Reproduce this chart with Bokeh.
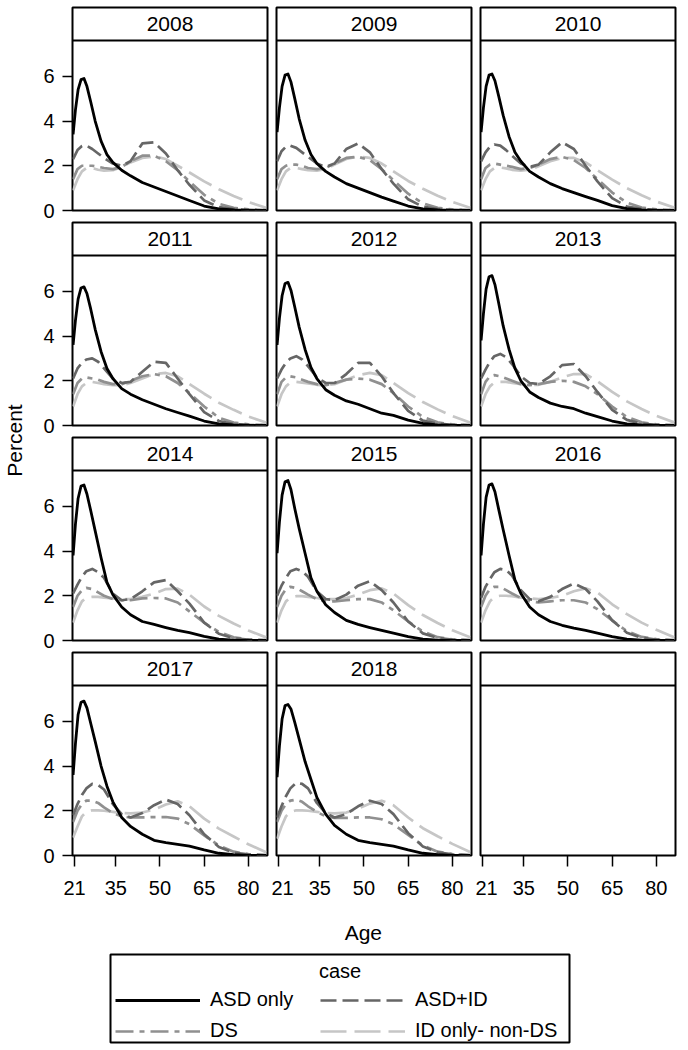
import math
from bokeh.plotting import figure
from bokeh.models import Range1d, FixedTicker, Span, Label, Legend, LegendItem
from bokeh.layouts import row, column
from bokeh.embed import file_html
from bokeh.resources import INLINE

FONT = "Liberation Sans"

years = ["2008", "2009", "2010", "2011", "2012", "2013", "2014", "2015", "2016", "2017", "2018"]
ages_asd = [20.5, 21.3, 22.2, 23.2, 24.2, 25.2, 26.5, 28, 30, 32, 34, 37, 40, 44, 48, 52, 56, 60, 65, 70, 75, 80, 86]
ages = [20.5, 22, 23.5, 25, 27, 29, 31, 34, 37, 40, 44, 48, 52, 56, 60, 65, 70, 75, 80, 86]
x_ticks = [21, 35, 50, 65, 80]
y_ticks = [0, 2, 4, 6]

asd_only = {
    "2008": [3.4, 4.5, 5.4, 5.85, 5.9, 5.55, 4.85, 4.0, 3.1, 2.5, 2.15, 1.8, 1.55, 1.25, 1.05, 0.85, 0.65, 0.45, 0.2, 0.07, 0.03, 0.01, 0.0],
    "2009": [3.5, 4.6, 5.55, 6.05, 6.1, 5.75, 5.0, 4.1, 3.15, 2.5, 2.1, 1.75, 1.5, 1.2, 1.0, 0.8, 0.6, 0.42, 0.2, 0.07, 0.03, 0.01, 0.0],
    "2010": [3.5, 4.6, 5.55, 6.05, 6.1, 5.8, 5.1, 4.25, 3.3, 2.6, 2.2, 1.75, 1.5, 1.2, 0.98, 0.8, 0.62, 0.45, 0.22, 0.08, 0.03, 0.01, 0.0],
    "2011": [3.6, 4.7, 5.65, 6.15, 6.2, 5.9, 5.2, 4.3, 3.3, 2.55, 2.1, 1.65, 1.4, 1.15, 0.95, 0.75, 0.58, 0.42, 0.2, 0.07, 0.03, 0.01, 0.0],
    "2012": [3.6, 4.8, 5.8, 6.35, 6.4, 6.05, 5.3, 4.4, 3.4, 2.6, 2.1, 1.6, 1.35, 1.1, 0.95, 0.75, 0.55, 0.45, 0.24, 0.09, 0.03, 0.01, 0.0],
    "2013": [3.8, 5.0, 6.1, 6.65, 6.7, 6.3, 5.45, 4.45, 3.4, 2.55, 2.0, 1.5, 1.25, 1.0, 0.85, 0.75, 0.55, 0.4, 0.2, 0.07, 0.03, 0.01, 0.0],
    "2014": [3.8, 5.2, 6.35, 6.9, 6.95, 6.55, 5.8, 4.9, 3.7, 2.6, 2.05, 1.5, 1.15, 0.85, 0.72, 0.58, 0.45, 0.35, 0.18, 0.06, 0.02, 0.01, 0.0],
    "2015": [3.9, 5.3, 6.5, 7.1, 7.15, 6.75, 5.9, 5.0, 3.9, 2.8, 2.2, 1.6, 1.25, 0.9, 0.72, 0.58, 0.45, 0.33, 0.17, 0.06, 0.02, 0.01, 0.0],
    "2016": [3.8, 5.2, 6.4, 6.95, 7.0, 6.65, 5.85, 4.95, 3.8, 2.7, 2.1, 1.5, 1.15, 0.85, 0.68, 0.55, 0.45, 0.33, 0.17, 0.06, 0.02, 0.01, 0.0],
    "2017": [3.6, 5.0, 6.3, 6.85, 6.9, 6.6, 5.9, 5.1, 4.0, 3.1, 2.4, 1.7, 1.3, 0.95, 0.68, 0.58, 0.5, 0.42, 0.25, 0.1, 0.04, 0.01, 0.0],
    "2018": [3.5, 4.9, 6.1, 6.7, 6.75, 6.55, 5.95, 5.2, 4.2, 3.4, 2.6, 1.85, 1.35, 0.95, 0.68, 0.58, 0.5, 0.42, 0.25, 0.1, 0.04, 0.01, 0.0],
}

asd_id = {
    "2008": [2.3, 2.7, 2.88, 2.9, 2.75, 2.55, 2.35, 2.1, 2.0, 2.2, 3.0, 3.05, 2.55, 1.8, 1.15, 0.45, 0.15, 0.06, 0.03, 0.01],
    "2009": [2.2, 2.65, 2.85, 2.9, 2.8, 2.6, 2.4, 2.1, 1.95, 2.1, 2.75, 3.0, 2.6, 1.85, 1.2, 0.5, 0.17, 0.06, 0.03, 0.01],
    "2010": [2.2, 2.6, 2.85, 2.95, 2.9, 2.7, 2.45, 2.1, 1.95, 2.05, 2.6, 3.05, 2.75, 2.0, 1.3, 0.55, 0.18, 0.07, 0.03, 0.01],
    "2011": [2.1, 2.55, 2.8, 2.95, 3.0, 2.85, 2.55, 2.1, 1.9, 1.95, 2.4, 2.85, 2.8, 2.1, 1.4, 0.6, 0.2, 0.07, 0.03, 0.01],
    "2012": [2.1, 2.5, 2.8, 3.0, 3.1, 2.95, 2.65, 2.15, 1.9, 1.9, 2.3, 2.8, 2.8, 2.2, 1.45, 0.65, 0.22, 0.08, 0.03, 0.01],
    "2013": [2.1, 2.5, 2.85, 3.1, 3.2, 3.05, 2.75, 2.2, 1.9, 1.85, 2.2, 2.7, 2.75, 2.2, 1.5, 0.7, 0.25, 0.08, 0.03, 0.01],
    "2014": [2.1, 2.5, 2.85, 3.1, 3.2, 3.05, 2.8, 2.1, 1.8, 1.85, 2.2, 2.6, 2.7, 2.2, 1.65, 0.8, 0.3, 0.1, 0.04, 0.01],
    "2015": [2.0, 2.45, 2.8, 3.1, 3.2, 3.1, 2.85, 2.2, 1.85, 1.8, 2.05, 2.45, 2.65, 2.25, 1.7, 0.85, 0.32, 0.11, 0.04, 0.01],
    "2016": [1.9, 2.4, 2.75, 3.05, 3.2, 3.15, 2.9, 2.25, 1.85, 1.75, 1.95, 2.3, 2.55, 2.3, 1.75, 0.9, 0.35, 0.12, 0.04, 0.01],
    "2017": [1.8, 2.3, 2.7, 3.0, 3.2, 3.15, 2.95, 2.3, 1.85, 1.7, 1.9, 2.25, 2.5, 2.3, 1.8, 0.95, 0.38, 0.13, 0.05, 0.01],
    "2018": [1.7, 2.2, 2.65, 3.0, 3.25, 3.2, 3.0, 2.35, 1.9, 1.7, 1.85, 2.2, 2.45, 2.3, 1.85, 1.0, 0.4, 0.14, 0.05, 0.01],
}

ds = {
    "2008": [1.4, 1.85, 2.0, 2.0, 2.0, 1.95, 1.9, 1.85, 1.95, 2.2, 2.45, 2.45, 2.2, 1.8, 1.3, 0.7, 0.3, 0.12, 0.05, 0.02],
    "2009": [1.4, 1.85, 2.0, 2.05, 2.05, 2.0, 1.9, 1.85, 1.9, 2.1, 2.35, 2.4, 2.25, 1.85, 1.35, 0.75, 0.32, 0.12, 0.05, 0.02],
    "2010": [1.4, 1.9, 2.05, 2.1, 2.05, 2.0, 1.95, 1.85, 1.9, 2.05, 2.3, 2.4, 2.25, 1.9, 1.4, 0.8, 0.35, 0.13, 0.05, 0.02],
    "2011": [1.4, 1.9, 2.1, 2.15, 2.1, 2.05, 1.95, 1.85, 1.85, 2.0, 2.2, 2.3, 2.2, 1.9, 1.45, 0.85, 0.35, 0.13, 0.05, 0.02],
    "2012": [1.4, 1.95, 2.15, 2.2, 2.15, 2.05, 1.95, 1.85, 1.8, 1.9, 2.05, 2.1, 2.05, 1.85, 1.45, 0.85, 0.38, 0.14, 0.05, 0.02],
    "2013": [1.4, 1.95, 2.2, 2.25, 2.2, 2.1, 2.0, 1.85, 1.8, 1.85, 1.95, 2.0, 1.95, 1.75, 1.4, 0.85, 0.38, 0.14, 0.05, 0.02],
    "2014": [1.5, 2.0, 2.25, 2.35, 2.3, 2.15, 2.0, 1.85, 1.8, 1.8, 1.88, 1.9, 1.88, 1.7, 1.3, 0.8, 0.38, 0.14, 0.05, 0.02],
    "2015": [1.5, 2.0, 2.3, 2.4, 2.35, 2.2, 2.05, 1.85, 1.75, 1.75, 1.8, 1.85, 1.85, 1.7, 1.35, 0.85, 0.4, 0.15, 0.05, 0.02],
    "2016": [1.5, 2.0, 2.3, 2.4, 2.4, 2.25, 2.1, 1.9, 1.75, 1.7, 1.75, 1.8, 1.8, 1.7, 1.4, 0.9, 0.42, 0.16, 0.06, 0.02],
    "2017": [1.5, 2.0, 2.3, 2.45, 2.45, 2.35, 2.15, 1.9, 1.75, 1.7, 1.7, 1.72, 1.72, 1.65, 1.4, 0.9, 0.45, 0.17, 0.06, 0.02],
    "2018": [1.5, 2.0, 2.3, 2.45, 2.5, 2.4, 2.2, 1.95, 1.75, 1.68, 1.68, 1.7, 1.7, 1.62, 1.4, 0.92, 0.45, 0.17, 0.06, 0.02],
}

id_only = {
    "2008": [0.9, 1.4, 1.75, 1.9, 1.9, 1.82, 1.78, 1.8, 1.95, 2.15, 2.35, 2.42, 2.3, 2.0, 1.7, 1.3, 0.95, 0.65, 0.38, 0.12],
    "2009": [0.9, 1.4, 1.75, 1.9, 1.9, 1.85, 1.8, 1.78, 1.85, 2.05, 2.3, 2.42, 2.35, 2.1, 1.75, 1.32, 0.97, 0.66, 0.38, 0.12],
    "2010": [0.9, 1.4, 1.75, 1.9, 1.92, 1.88, 1.82, 1.78, 1.82, 1.98, 2.2, 2.35, 2.35, 2.15, 1.8, 1.38, 1.0, 0.68, 0.4, 0.13],
    "2011": [0.85, 1.4, 1.75, 1.9, 1.95, 1.9, 1.85, 1.8, 1.8, 1.9, 2.1, 2.3, 2.35, 2.2, 1.85, 1.42, 1.02, 0.7, 0.4, 0.13],
    "2012": [0.85, 1.4, 1.75, 1.92, 1.95, 1.92, 1.88, 1.82, 1.8, 1.85, 2.05, 2.25, 2.35, 2.25, 1.9, 1.45, 1.05, 0.72, 0.42, 0.13],
    "2013": [0.85, 1.4, 1.75, 1.92, 1.95, 1.95, 1.9, 1.85, 1.8, 1.82, 1.95, 2.15, 2.3, 2.3, 1.98, 1.5, 1.08, 0.74, 0.43, 0.14],
    "2014": [0.8, 1.35, 1.75, 1.92, 1.95, 1.95, 1.92, 1.88, 1.85, 1.85, 1.95, 2.1, 2.3, 2.32, 2.05, 1.52, 1.1, 0.76, 0.45, 0.14],
    "2015": [0.8, 1.35, 1.75, 1.92, 1.98, 1.98, 1.95, 1.9, 1.85, 1.85, 1.9, 2.05, 2.25, 2.33, 2.1, 1.58, 1.14, 0.78, 0.46, 0.15],
    "2016": [0.8, 1.35, 1.75, 1.95, 2.0, 2.0, 1.98, 1.92, 1.88, 1.85, 1.9, 2.0, 2.2, 2.33, 2.15, 1.62, 1.18, 0.8, 0.48, 0.15],
    "2017": [0.8, 1.3, 1.75, 1.95, 2.02, 2.02, 2.0, 1.95, 1.9, 1.88, 1.92, 2.05, 2.28, 2.42, 2.2, 1.65, 1.2, 0.85, 0.5, 0.15],
    "2018": [0.75, 1.3, 1.75, 1.95, 2.02, 2.02, 2.0, 1.95, 1.9, 1.88, 1.92, 2.1, 2.32, 2.45, 2.25, 1.7, 1.22, 0.86, 0.52, 0.16],
}

series_names = ["ASD only", "ASD+ID", "DS", "ID only- non-DS"]
series_data = [asd_only, asd_id, ds, id_only]
series_x = [ages_asd, ages, ages, ages]
series_colors = ["#000000", "#666666", "#909090", "#c6c6c6"]
series_dash = ["solid", "16 6", "18 6 5 6", "26 8"]
series_width = [2.8, 2.7, 2.7, 2.7]

X0, X1 = 20.3, 86.5
YMAX = 7.6
PLOT_PX = 170
STRIP_PX = 33


def make_panel(r, c, year):
    ytop = YMAX + STRIP_PX * YMAX / PLOT_PX
    p = figure(
        title=None,
        frame_width=195, frame_height=STRIP_PX + PLOT_PX,
        x_range=Range1d(X0, X1), y_range=Range1d(0, ytop),
        min_border_left=42 if c == 0 else 5, min_border_right=4,
        min_border_top=7 if r == 0 else 1, min_border_bottom=50 if r == 3 else 11,
        toolbar_location=None, output_backend="svg",
        x_axis_location="below" if r == 3 else None,
        y_axis_location="left" if c == 0 else None,
    )
    p.grid.visible = False
    p.outline_line_color = "black"
    p.outline_line_width = 2
    p.background_fill_color = "white"
    p.border_fill_color = "white"
    for ax in p.axis:
        ax.axis_line_color = None
        ax.major_tick_line_color = "black"
        ax.major_tick_line_width = 1.5
        ax.major_tick_in = 0
        ax.minor_tick_line_color = None
        ax.major_label_text_font = FONT
        ax.major_label_text_font_size = "20px"
        ax.major_label_text_color = "black"
    if c == 0:
        p.yaxis.ticker = FixedTicker(ticks=y_ticks)
        p.yaxis.major_tick_out = 10
        p.yaxis.major_label_standoff = 8
    if r == 3:
        p.xaxis.ticker = FixedTicker(ticks=x_ticks)
        p.xaxis.major_tick_out = 11
        p.xaxis.major_label_standoff = 14
    p.add_layout(Span(location=YMAX, dimension="width", line_color="black", line_width=2))
    if year:
        p.add_layout(Label(x=(X0 + X1) / 2, y=(YMAX + ytop) / 2, text=year,
                           text_align="center", text_baseline="middle",
                           text_font=FONT, text_font_size="21px", text_color="black"))
        for i in [3, 2, 1, 0]:
            p.line(series_x[i], series_data[i][year], line_color=series_colors[i],
                   line_width=series_width[i], line_dash=series_dash[i], line_join="round")
    return p


panels = []
for k in range(12):
    r, c = divmod(k, 3)
    yr = years[k] if k < len(years) else ""
    panels.append(make_panel(r, c, yr))

grid_rows = [row(*panels[3 * r:3 * r + 3]) for r in range(4)]
grid_col = column(*grid_rows)

GRID_H = 221 + 215 + 215 + 254
pf = figure(width=30, height=GRID_H, x_range=Range1d(0, 30), y_range=Range1d(0, GRID_H),
            toolbar_location=None, output_backend="svg", min_border=0,
            x_axis_location=None, y_axis_location=None, title=None)
pf.grid.visible = False
pf.outline_line_color = None
pf.add_layout(Label(x=14, y=GRID_H - 440, text="Percent", angle=math.pi / 2,
                    text_align="center", text_baseline="middle",
                    text_font=FONT, text_font_size="21px", text_color="black"))

agef = figure(width=679, height=40, x_range=Range1d(0, 679), y_range=Range1d(0, 40),
              toolbar_location=None, output_backend="svg", min_border=0,
              x_axis_location=None, y_axis_location=None, title=None)
agef.grid.visible = False
agef.outline_line_color = None
agef.add_layout(Label(x=374, y=13, text="Age", text_align="center", text_baseline="middle",
                      text_font=FONT, text_font_size="21px", text_color="black"))

LW, LH = 459, 88
lf = figure(frame_width=LW, frame_height=LH, x_range=Range1d(0, LW), y_range=Range1d(0, LH),
            min_border_left=110, min_border_right=110, min_border_top=9, min_border_bottom=2,
            toolbar_location=None, output_backend="svg",
            x_axis_location=None, y_axis_location=None, title=None)
lf.grid.visible = False
lf.outline_line_color = "black"
lf.outline_line_width = 2
rends = []
for i in range(4):
    rends.append(lf.line(x=[-20, -10], y=[-20, -10], line_color=series_colors[i],
                         line_width=series_width[i], line_dash=series_dash[i]))
order = [0, 2, 1, 3]
legend = Legend(
    items=[LegendItem(label=series_names[i], renderers=[rends[i]]) for i in order],
    location=(5, 0), margin=0, padding=5, spacing=8,
    label_text_font=FONT, label_text_font_size="20px", label_text_color="black",
    label_standoff=10, label_width=102,
    glyph_width=85, glyph_height=20, label_height=20,
    border_line_color=None, background_fill_alpha=0,
    ncols=2,
)
lf.add_layout(legend)
lf.add_layout(Label(x=LW / 2, y=LH - 16, text="case", text_align="center", text_baseline="middle",
                    text_font=FONT, text_font_size="20px", text_color="black"))

layout = column(row(pf, grid_col), agef, lf)

open("out.html", "w").write(file_html(layout, INLINE))
